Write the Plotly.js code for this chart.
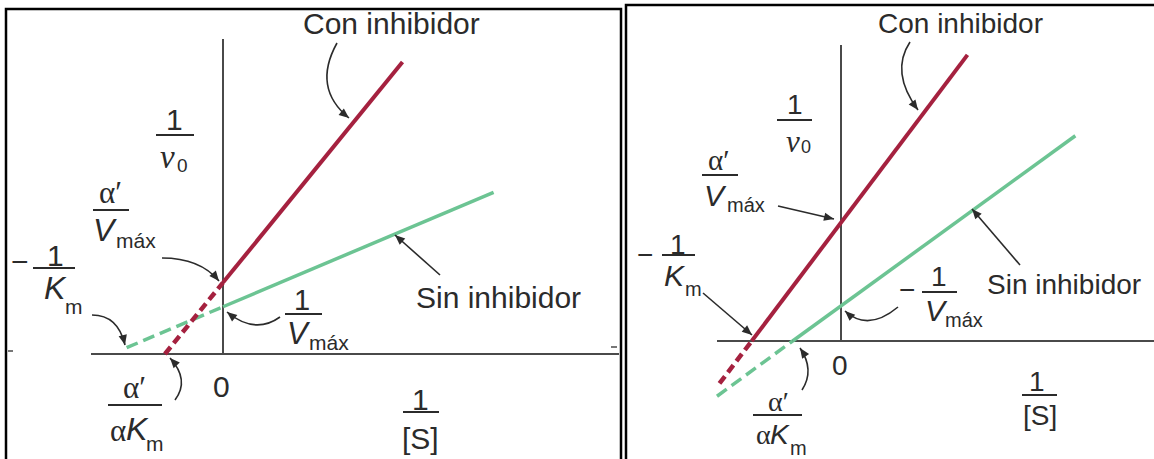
<!DOCTYPE html>
<html>
<head>
<meta charset="utf-8">
<script src="https://cdn.plot.ly/plotly-3.0.1.min.js"></script>
<style>
  html, body { margin: 0; padding: 0; background: #fff; }
  #chart { width: 1154px; height: 459px; }
</style>
</head>
<body>
<div id="chart"></div>
<script>
// Lineweaver–Burk double-reciprocal plots, x = 1/[S], y = 1/v0 (arbitrary units).
// Left: mixed inhibition. Right: uncompetitive inhibition.

// ---- left panel: mixed inhibitor ----
const mixedConX    = [0, 1.36];      // with inhibitor, measured range
const mixedConY    = [0.68, 2.78];
const mixedConExtX = [-0.44, 0];     // with inhibitor, extrapolation
const mixedConExtY = [0, 0.68];
const mixedSinX    = [0, 2.05];      // without inhibitor, measured range
const mixedSinY    = [0.45, 1.54];
const mixedSinExtX = [-0.73, 0];     // without inhibitor, extrapolation
const mixedSinExtY = [0.06, 0.45];
const mixedAxisX   = [-1.0, 3.0];    // extent of the 1/[S] axis
const mixedAxisY   = [0, 3.0];       // extent of the 1/v0 axis

// ---- right panel: uncompetitive inhibitor ----
const uncConX    = [-0.72, 1.02];
const uncConY    = [0, 2.90];
const uncConExtX = [-0.98, -0.72];
const uncConExtY = [-0.43, 0];
const uncSinX    = [-0.39, 1.89];
const uncSinY    = [0, 2.08];
const uncSinExtX = [-1.0, -0.39];
const uncSinExtY = [-0.56, 0];
const uncAxisX   = [-1.0, 2.53];
const uncAxisY   = [0, 3.0];

const W = 1154, H = 459;
const px = x => x / W;
const py = y => 1 - y / H;

const SANS  = 'Liberation Sans, Arial, Helvetica, sans-serif';
const SERIF = 'Liberation Serif, Times New Roman, serif';
const INK   = '#2b2b2b';
const RED   = '#a5213f';
const GREEN = '#6cc493';
const AXIS  = '#4a4a4a';

const annotations = [];
const shapes = [];

function label(t, x, y, size, opt) {
  opt = opt || {};
  annotations.push({
    xref: 'paper', yref: 'paper', x: px(x), y: py(y),
    text: t, showarrow: false, borderpad: 0,
    xanchor: opt.xanchor || 'center', yanchor: 'middle',
    font: { family: opt.family || SANS, size: size, color: INK }
  });
}
const serif = (t, x, y, size) => label(t, x, y, size, { family: SERIF });
const sub   = (t, x, y, size) => label(t, x, y, size, { xanchor: 'left' });

function bar(x0, x1, y) {
  shapes.push({ type: 'line', xref: 'paper', yref: 'paper',
    x0: px(x0), x1: px(x1), y0: py(y), y1: py(y),
    line: { color: INK, width: 2 } });
}
// filled triangular arrowhead with its tip at (x, y), pointing along (ux, uy)
function head(x, y, ux, uy) {
  const L = 10, w = 4.2;
  const bx = x - ux * L, by = y - uy * L;
  const p1x = bx - uy * w, p1y = by + ux * w;
  const p2x = bx + uy * w, p2y = by - ux * w;
  shapes.push({ type: 'path', xref: 'paper', yref: 'paper',
    path: 'M ' + px(x) + ' ' + py(y) + ' L ' + px(p1x) + ' ' + py(p1y) +
          ' L ' + px(p2x) + ' ' + py(p2y) + ' Z',
    fillcolor: INK, line: { width: 0 } });
}
function curvedArrow(x0, y0, cx, cy, x1, y1) {
  shapes.push({ type: 'path', xref: 'paper', yref: 'paper',
    path: 'M ' + px(x0) + ' ' + py(y0) + ' Q ' + px(cx) + ' ' + py(cy) + ' ' + px(x1) + ' ' + py(y1),
    line: { color: INK, width: 1.6 } });
  const dx = x1 - cx, dy = y1 - cy, d = Math.hypot(dx, dy);
  head(x1, y1, dx / d, dy / d);
}
function straightArrow(x0, y0, x1, y1) {
  shapes.push({ type: 'line', xref: 'paper', yref: 'paper',
    x0: px(x0), y0: py(y0), x1: px(x1), y1: py(y1), line: { color: INK, width: 1.6 } });
  const dx = x1 - x0, dy = y1 - y0, d = Math.hypot(dx, dy);
  head(x1, y1, dx / d, dy / d);
}

// ---- panel frames ----
shapes.push({ type: 'rect', xref: 'paper', yref: 'paper', x0: px(6), x1: px(621), y0: py(480), y1: py(9),
  line: { color: '#000', width: 2.5 } });
shapes.push({ type: 'rect', xref: 'paper', yref: 'paper', x0: px(626), x1: px(1170), y0: py(480), y1: py(5),
  line: { color: '#000', width: 2.5 } });
shapes.push({ type: 'line', xref: 'paper', yref: 'paper', x0: px(8), x1: px(13), y0: py(351), y1: py(351),
  line: { color: '#777', width: 2 } });
shapes.push({ type: 'line', xref: 'paper', yref: 'paper', x0: px(611), x1: px(617), y0: py(347), y1: py(347),
  line: { color: '#777', width: 2 } });

// ---- axis lines ----
function axes(xr, yr, ax, ayr) {
  shapes.push({ type: 'line', xref: xr, yref: yr, layer: 'below',
    x0: ax[0], x1: ax[1], y0: 0, y1: 0, line: { color: AXIS, width: 2 } });
  shapes.push({ type: 'line', xref: xr, yref: yr, layer: 'below',
    x0: 0, x1: 0, y0: ayr[0], y1: ayr[1], line: { color: AXIS, width: 2 } });
}
axes('x', 'y', mixedAxisX, mixedAxisY);
axes('x2', 'y2', uncAxisX, uncAxisY);

// ---- left panel labels ----
label('Con inhibidor', 391, 23, 30);
curvedArrow(337, 43, 312, 88, 349, 118);

// 1 / ν0
label('1', 174, 119, 30); bar(156, 194, 135);
serif('<i>ν</i>', 167, 157, 33); label('0', 182, 165, 19);

// α′ / Vmáx
serif('α′', 111, 192, 31); bar(93, 129, 210);
label('<i>V</i>', 105, 230, 32); sub('máx', 115, 240, 21);
curvedArrow(162, 258, 200, 258, 219, 281);

// −1 / Km
label('−', 20, 261, 30); label('1', 55, 255, 30); bar(33, 75, 268);
label('<i>K</i>', 55, 288, 32); sub('m', 64, 306, 21);
curvedArrow(92, 315, 118, 315, 125, 345);

label('0', 222, 386, 30);

// α′ / αKm
serif('α′', 134, 387, 31); bar(108, 162, 405);
serif('α', 118, 430, 31); label('<i>K</i>', 137, 429, 32); sub('m', 145, 443, 21);
curvedArrow(175, 400, 190, 380, 170, 358);

// 1 / Vmáx
label('1', 302, 300, 29); bar(285, 322, 314);
label('<i>V</i>', 299, 333, 31); sub('máx', 308, 342, 21);
curvedArrow(280, 317, 255, 335, 227, 312);

label('Sin inhibidor', 498, 297, 30);
straightArrow(440, 275, 395, 235);

// 1 / [S]
label('1', 420, 399, 30); bar(403, 439, 412); label('[S]', 421, 438, 30);

// ---- right panel labels ----
label('Con inhibidor', 960, 23, 28);
curvedArrow(910, 42, 890, 72, 918, 110);

label('1', 795, 105, 28); bar(777, 812, 120);
serif('<i>ν</i>', 793, 141, 31); label('0', 806, 147, 18);

serif('α′', 719, 160, 29); bar(702, 738, 175);
label('<i>V</i>', 715, 195, 30); sub('máx', 726, 205, 20);
straightArrow(778, 206, 834, 219);

label('−', 645, 254, 28); label('1', 678, 244, 28); bar(662, 695, 255);
label('<i>K</i>', 675, 275, 30); sub('m', 684, 289, 20);
straightArrow(703, 293, 752, 335);

label('−', 907, 289, 28); label('1', 939, 276, 28); bar(922, 957, 292);
label('<i>V</i>', 936, 310, 30); sub('máx', 944, 320, 20);
curvedArrow(898, 307, 868, 332, 845, 311);

label('Sin inhibidor', 1064, 284, 28);
straightArrow(1020, 265, 972, 209);

label('0', 840, 365, 28);

serif('α′', 778, 401, 28); bar(753, 802, 415);
serif('α', 763, 434, 28); label('<i>K</i>', 780, 434, 28); sub('m', 789, 448, 20);
curvedArrow(802, 390, 815, 370, 800, 348);

label('1', 1037, 381, 28); bar(1022, 1057, 395); label('[S]', 1040, 415, 28);

// ---- traces ----
function seg(x, y, xa, ya, color, width, dash) {
  return { type: 'scatter', mode: 'lines', x: x, y: y, xaxis: xa, yaxis: ya,
    line: { color: color, width: width, dash: dash || 'solid' }, hoverinfo: 'skip' };
}
const data = [
  seg(mixedSinX, mixedSinY, 'x', 'y', GREEN, 3.5),
  seg(mixedSinExtX, mixedSinExtY, 'x', 'y', GREEN, 3.5, '12px,6px'),
  seg(mixedConX, mixedConY, 'x', 'y', RED, 4),
  seg(mixedConExtX, mixedConExtY, 'x', 'y', RED, 4.5, '9px,5px'),
  seg(uncSinX, uncSinY, 'x2', 'y2', GREEN, 3.5),
  seg(uncSinExtX, uncSinExtY, 'x2', 'y2', GREEN, 3.5, '12px,6px'),
  seg(uncConX, uncConY, 'x2', 'y2', RED, 4),
  seg(uncConExtX, uncConExtY, 'x2', 'y2', RED, 4.5, '9px,5px')
];

const hidden = { visible: false, fixedrange: true };
const layout = {
  width: W, height: H,
  margin: { l: 0, r: 0, t: 0, b: 0 },
  paper_bgcolor: '#fff', plot_bgcolor: 'rgba(0,0,0,0)',
  showlegend: false,
  xaxis:  Object.assign({ domain: [px(7), px(620)],  range: [-1.6364, 3.0076] }, hidden),
  yaxis:  Object.assign({ domain: [0, py(10)],       range: [-1.0, 3.2762] }, hidden),
  xaxis2: Object.assign({ domain: [px(628), 1],      range: [-1.7177, 2.5242], anchor: 'y2' }, hidden),
  yaxis2: Object.assign({ domain: [0, py(7)],        range: [-1.1959, 3.385], anchor: 'x2' }, hidden),
  shapes: shapes,
  annotations: annotations
};

Plotly.newPlot('chart', data, layout, { staticPlot: true, displayModeBar: false });
</script>
</body>
</html>
